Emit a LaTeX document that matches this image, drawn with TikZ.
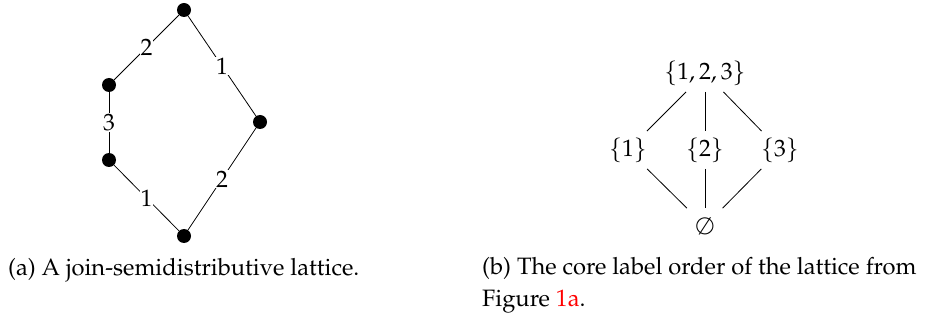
\documentclass[tikz,border=0pt]{standalone}
\usepackage[T1]{fontenc}
\usepackage{mathpazo}
\begin{document}
\begin{tikzpicture}[x=1pt,y=-1pt,
  dot/.style={circle,fill=black,inner sep=0pt,minimum size=14pt},
  elabel/.style={fill=white,inner sep=1pt,font=\fontsize{23.7}{28}\selectfont},
  setnode/.style={inner sep=6.5pt,font=\fontsize{23.7}{28}\selectfont},
  lnk/.style={line width=0.8pt},
  captext/.style={anchor=west,align=left,inner sep=0pt,font=\fontsize{23.7}{32}\selectfont}]
\useasboundingbox (0,0) rectangle (925,320);
% left lattice
\node[dot] (t) at (184,10) {};
\node[dot] (lu) at (109,85) {};
\node[dot] (ll) at (109,160) {};
\node[dot] (b) at (184,236) {};
\node[dot] (r) at (260,122) {};
\draw[lnk] (t) -- node[elabel] {2} (lu);
\draw[lnk] (lu) -- node[elabel] {3} (ll);
\draw[lnk] (ll) -- node[elabel] {1} (b);
\draw[lnk] (t) -- node[elabel] {1} (r);
\draw[lnk] (r) -- node[elabel] {2} (b);
% right lattice
\node[setnode] (s123) at (705,73) {$\{1,2,3\}$};
\node[setnode] (s1) at (628,150) {$\{1\}$};
\node[setnode] (s2) at (705,150) {$\{2\}$};
\node[setnode] (s3) at (780,150) {$\{3\}$};
\node[setnode,inner sep=9pt] (s0) at (705,226) {$\emptyset$};
\draw[lnk] (s123) -- (s1);
\draw[lnk] (s123) -- (s2);
\draw[lnk] (s123) -- (s3);
\draw[lnk] (s1) -- (s0);
\draw[lnk] (s2) -- (s0);
\draw[lnk] (s3) -- (s0);
% captions
\node[captext] (capa) at (8,270) {(a) A join-semidistributive lattice.};
\node[captext,anchor=north west] (capb) at (482,257) {(b) The core label order of the lattice from\\Figure \textcolor{red}{1a}.};
\end{tikzpicture}
\end{document}
